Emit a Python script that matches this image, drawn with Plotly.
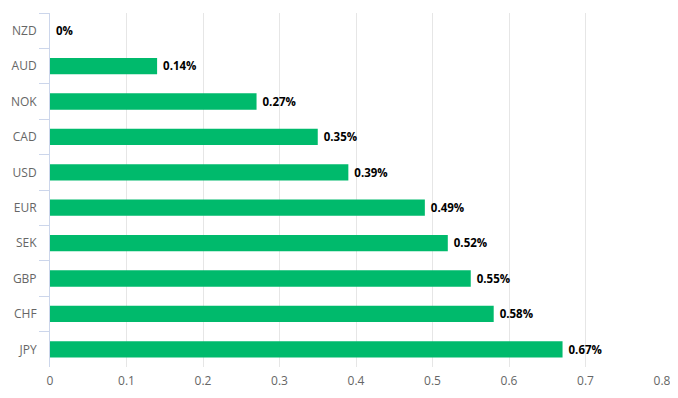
import plotly.graph_objects as go

currencies = ["NZD", "AUD", "NOK", "CAD", "USD", "EUR", "SEK", "GBP", "CHF", "JPY"]
values = [0, 0.14, 0.27, 0.35, 0.39, 0.49, 0.52, 0.55, 0.58, 0.67]
labels = ["0%", "0.14%", "0.27%", "0.35%", "0.39%", "0.49%", "0.52%", "0.55%", "0.58%", "0.67%"]
x_ticks = [0, 0.1, 0.2, 0.3, 0.4, 0.5, 0.6, 0.7, 0.8]

fig = go.Figure(go.Bar(
    x=values, y=currencies, orientation="h",
    marker=dict(color="#00BA6C", line=dict(width=0)),
    width=0.46,
    text=[" " + t for t in labels], textposition="outside", cliponaxis=False,
    textfont=dict(family="Open Sans", size=12, color="#000000", weight="bold"),
))

# page body adds an 8px offset, so the figure is sized/margined to compensate
fig.update_layout(
    width=670, height=390,
    margin=dict(l=42, r=16, t=5, b=31, autoexpand=False),
    paper_bgcolor="white", plot_bgcolor="white",
    showlegend=False,
    font=dict(family="Open Sans", size=12, color="#666666"),
    xaxis=dict(range=[0, 0.8], tickvals=x_ticks, ticktext=[str(v) for v in x_ticks],
               showgrid=True, gridcolor="#e6e6e6", gridwidth=1, zeroline=False,
               showline=False, ticks="", automargin=False, ticklabelstandoff=5,
               tickfont=dict(size=12, color="#666666")),
    yaxis=dict(categoryorder="array", categoryarray=currencies, autorange="reversed",
               showline=True, linecolor="#ccd6eb", linewidth=1,
               ticks="outside", tickson="boundaries", ticklen=10, tickcolor="#ccd6eb",
               showgrid=False, automargin=False, ticklabelstandoff=10,
               tickfont=dict(size=12, color="#666666")),
)

fig.write_html("out.html")
